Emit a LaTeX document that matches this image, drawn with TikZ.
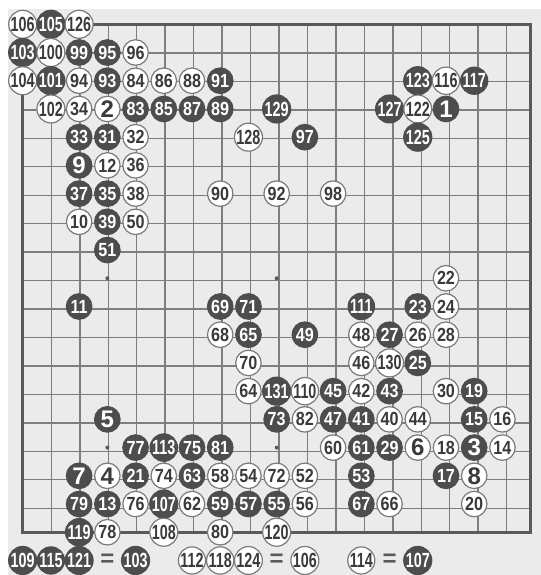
\documentclass[tikz,border=0pt]{standalone}
\usepackage{fontspec}
\setmainfont{Liberation Sans}
\newfontfamily\stonefont{Liberation Sans}
\newfontfamily\stonemid[FakeStretch=0.85]{Liberation Sans}
\newfontfamily\stonenarrow[FakeStretch=0.7]{Liberation Sans}
\usepackage{tikz}

\definecolor{boardbg}{HTML}{EBEBEB}
\definecolor{gridcol}{HTML}{7E7E7E}
\definecolor{edgecol}{HTML}{5A5A5A}
\definecolor{blackstone}{HTML}{4D4D4D}
\definecolor{whiteedge}{HTML}{7A7A7A}
\definecolor{numdark}{HTML}{3A3A3A}

\tikzset{
  stone/.style={circle, inner sep=0pt, minimum size=25.5pt, line width=1.2pt},
  bs/.style={stone, fill=blackstone, draw=blackstone, text=white},
  ws/.style={stone, fill=white, draw=whiteedge, text=numdark},
  one/.style={font=\stonefont\bfseries\fontsize{24}{24}\selectfont},
  two/.style={font=\stonemid\bfseries\fontsize{19}{19}\selectfont},
  three/.style={font=\stonenarrow\bfseries\fontsize{20.5}{20.5}\selectfont},
  eqsign/.style={inner sep=0pt, text=edgecol, font=\stonefont\bfseries\fontsize{24}{24}\selectfont}
}

\begin{document}
\begin{tikzpicture}[x=28.22pt, y=-28.22pt]
    \useasboundingbox (0.196,0.139) rectangle (19.366,20.515);
    \fill[boardbg] (0.479,0.458) rectangle (19.366,20.515);
    \draw[gridcol, line width=1.4pt] (1,1) grid (19,19);
    \draw[edgecol, line width=3pt] (1,1) rectangle (19,19);
    \fill[edgecol] (4,4) circle (2pt); \fill[edgecol] (10,4) circle (2pt); \fill[edgecol] (16,4) circle (2pt);
    \fill[edgecol] (4,10) circle (2pt); \fill[edgecol] (10,10) circle (2pt); \fill[edgecol] (16,10) circle (2pt);
    \fill[edgecol] (4,16) circle (2pt); \fill[edgecol] (10,16) circle (2pt); \fill[edgecol] (16,16) circle (2pt);
    % rows 1-4
    \node[ws,three] (m106) at (1,1) {106}; \node[bs,three] (m105) at (2,1) {105}; \node[ws,three] (m126) at (3,1) {126};
    \node[bs,three] (m103) at (1,2) {103}; \node[ws,three] (m100) at (2,2) {100}; \node[bs,two] (m99) at (3,2) {99};
    \node[bs,two] (m95) at (4,2) {95}; \node[ws,two] (m96) at (5,2) {96};
    \node[ws,three] (m104) at (1,3) {104}; \node[bs,three] (m101) at (2,3) {101}; \node[ws,two] (m94) at (3,3) {94};
    \node[bs,two] (m93) at (4,3) {93}; \node[ws,two] (m84) at (5,3) {84}; \node[ws,two] (m86) at (6,3) {86};
    \node[ws,two] (m88) at (7,3) {88}; \node[bs,two] (m91) at (8,3) {91}; \node[bs,three] (m123) at (15,3) {123};
    \node[ws,three] (m116) at (16,3) {116}; \node[bs,three] (m117) at (17,3) {117};
    \node[ws,three] (m102) at (2,4) {102}; \node[ws,two] (m34) at (3,4) {34}; \node[ws,one] (m2) at (4,4) {2};
    \node[bs,two] (m83) at (5,4) {83}; \node[bs,two] (m85) at (6,4) {85}; \node[bs,two] (m87) at (7,4) {87};
    \node[bs,two] (m89) at (8,4) {89}; \node[bs,three] (m129) at (10,4) {129}; \node[bs,three] (m127) at (14,4) {127};
    \node[ws,three] (m122) at (15,4) {122}; \node[bs,one] (m1) at (16,4) {1};
    % rows 5-10
    \node[bs,two] (m33) at (3,5) {33}; \node[bs,two] (m31) at (4,5) {31}; \node[ws,two] (m32) at (5,5) {32};
    \node[ws,three] (m128) at (9,5) {128}; \node[bs,two] (m97) at (11,5) {97}; \node[bs,three] (m125) at (15,5) {125};
    \node[bs,one] (m9) at (3,6) {9}; \node[ws,two] (m12) at (4,6) {12}; \node[ws,two] (m36) at (5,6) {36};
    \node[bs,two] (m37) at (3,7) {37}; \node[bs,two] (m35) at (4,7) {35}; \node[ws,two] (m38) at (5,7) {38};
    \node[ws,two] (m90) at (8,7) {90}; \node[ws,two] (m92) at (10,7) {92}; \node[ws,two] (m98) at (12,7) {98};
    \node[ws,two] (m10) at (3,8) {10}; \node[bs,two] (m39) at (4,8) {39}; \node[ws,two] (m50) at (5,8) {50};
    \node[bs,two] (m51) at (4,9) {51}; \node[ws,two] (m22) at (16,10) {22};
    % rows 11-15
    \node[bs,two] (m11) at (3,11) {11}; \node[bs,two] (m69) at (8,11) {69}; \node[bs,two] (m71) at (9,11) {71};
    \node[bs,three] (m111) at (13,11) {111}; \node[bs,two] (m23) at (15,11) {23}; \node[ws,two] (m24) at (16,11) {24};
    \node[ws,two] (m68) at (8,12) {68}; \node[bs,two] (m65) at (9,12) {65}; \node[bs,two] (m49) at (11,12) {49};
    \node[ws,two] (m48) at (13,12) {48}; \node[bs,two] (m27) at (14,12) {27}; \node[ws,two] (m26) at (15,12) {26};
    \node[ws,two] (m28) at (16,12) {28};
    \node[ws,two] (m70) at (9,13) {70}; \node[ws,two] (m46) at (13,13) {46}; \node[ws,three] (m130) at (14,13) {130};
    \node[bs,two] (m25) at (15,13) {25};
    \node[ws,two] (m64) at (9,14) {64}; \node[bs,three] (m131) at (10,14) {131}; \node[ws,three] (m110) at (11,14) {110};
    \node[bs,two] (m45) at (12,14) {45}; \node[ws,two] (m42) at (13,14) {42}; \node[bs,two] (m43) at (14,14) {43};
    \node[ws,two] (m30) at (16,14) {30}; \node[bs,two] (m19) at (17,14) {19};
    \node[bs,one] (m5) at (4,15) {5}; \node[bs,two] (m73) at (10,15) {73}; \node[ws,two] (m82) at (11,15) {82};
    \node[bs,two] (m47) at (12,15) {47}; \node[bs,two] (m41) at (13,15) {41}; \node[ws,two] (m40) at (14,15) {40};
    \node[ws,two] (m44) at (15,15) {44}; \node[bs,two] (m15) at (17,15) {15}; \node[ws,two] (m16) at (18,15) {16};
    % rows 16-19
    \node[bs,two] (m77) at (5,16) {77}; \node[bs,three] (m113) at (6,16) {113}; \node[bs,two] (m75) at (7,16) {75};
    \node[bs,two] (m81) at (8,16) {81}; \node[ws,two] (m60) at (12,16) {60}; \node[bs,two] (m61) at (13,16) {61};
    \node[bs,two] (m29) at (14,16) {29}; \node[ws,one] (m6) at (15,16) {6}; \node[ws,two] (m18) at (16,16) {18};
    \node[bs,one] (m3) at (17,16) {3}; \node[ws,two] (m14) at (18,16) {14};
    \node[bs,one] (m7) at (3,17) {7}; \node[ws,one] (m4) at (4,17) {4}; \node[bs,two] (m21) at (5,17) {21};
    \node[ws,two] (m74) at (6,17) {74}; \node[bs,two] (m63) at (7,17) {63}; \node[ws,two] (m58) at (8,17) {58};
    \node[ws,two] (m54) at (9,17) {54}; \node[ws,two] (m72) at (10,17) {72}; \node[ws,two] (m52) at (11,17) {52};
    \node[bs,two] (m53) at (13,17) {53}; \node[bs,two] (m17) at (16,17) {17}; \node[ws,one] (m8) at (17,17) {8};
    \node[bs,two] (m79) at (3,18) {79}; \node[bs,two] (m13) at (4,18) {13}; \node[ws,two] (m76) at (5,18) {76};
    \node[bs,three] (m107) at (6,18) {107}; \node[ws,two] (m62) at (7,18) {62}; \node[bs,two] (m59) at (8,18) {59};
    \node[bs,two] (m57) at (9,18) {57}; \node[bs,two] (m55) at (10,18) {55}; \node[ws,two] (m56) at (11,18) {56};
    \node[bs,two] (m67) at (13,18) {67}; \node[ws,two] (m66) at (14,18) {66}; \node[ws,two] (m20) at (17,18) {20};
    \node[bs,three] (m119) at (3,19) {119}; \node[ws,two] (m78) at (4,19) {78}; \node[ws,three] (m108) at (6,19) {108};
    \node[ws,two] (m80) at (8,19) {80}; \node[ws,three] (m120) at (10,19) {120};
    % moves played elsewhere
    \node[bs,three] (k109) at (1,20) {109}; \node[bs,three] (k115) at (2,20) {115}; \node[bs,three] (k121) at (3,20) {121};
    \node[eqsign] (eqa) at (4,20) {=}; \node[bs,three] (k103) at (5,20) {103};
    \node[ws,three] (k112) at (7,20) {112}; \node[ws,three] (k118) at (8,20) {118}; \node[ws,three] (k124) at (9,20) {124};
    \node[eqsign] (eqb) at (10,20) {=}; \node[ws,three] (k106) at (11,20) {106};
    \node[ws,three] (k114) at (13,20) {114}; \node[eqsign] (eqc) at (14,20) {=}; \node[bs,three] (k107) at (15,20) {107};
\end{tikzpicture}
\end{document}
